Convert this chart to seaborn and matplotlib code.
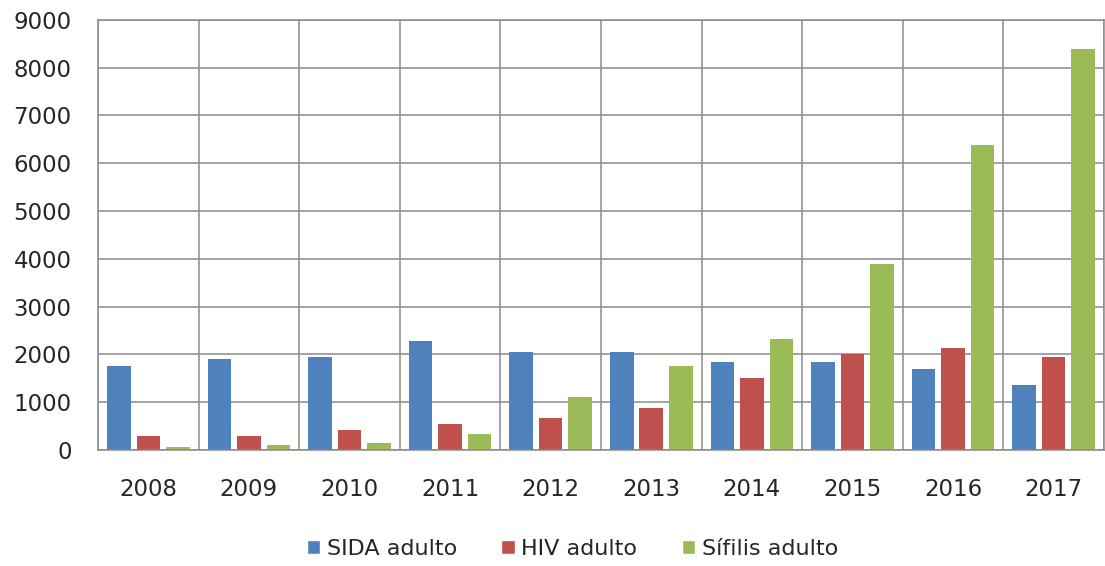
import pandas as pd
import seaborn as sns
import matplotlib.pyplot as plt
from matplotlib.patches import Patch

anos = ['2008', '2009', '2010', '2011', '2012', '2013', '2014', '2015', '2016', '2017']
sida = [1760, 1910, 1945, 2270, 2055, 2055, 1835, 1835, 1690, 1360]
hiv = [290, 290, 410, 550, 665, 885, 1510, 2010, 2125, 1940]
sifilis = [70, 110, 150, 330, 1100, 1765, 2315, 3885, 6380, 8390]
series = ['SIDA adulto', 'HIV adulto', 'Sífilis adulto']
colores = ['#4F81BD', '#C0504D', '#9BBB59']

df = pd.DataFrame({'ano': anos, series[0]: sida, series[1]: hiv, series[2]: sifilis})
df = df.melt(id_vars='ano', var_name='serie', value_name='casos')

sns.set_style("white")
plt.rcParams['font.family'] = ['DejaVu Sans']

fig = plt.figure(figsize=(11.05, 5.66), dpi=100)
ax = fig.add_axes([0.0887, 0.205, 0.9103, 0.76])

sns.barplot(data=df, x='ano', y='casos', hue='serie', hue_order=series,
            palette=colores, width=0.88, gap=0.2, saturation=1, linewidth=0,
            ax=ax, legend=False)

grid = '#8a8a8a'
ax.set_ylim(0, 9000)
ax.set_xlim(-0.5, len(anos) - 0.5)
ax.set_yticks(range(0, 9001, 1000))
ax.set_xticks([i - 0.5 for i in range(len(anos) + 1)], minor=True)
ax.grid(axis='y', which='major', color=grid, linewidth=1.1)
ax.grid(axis='x', which='minor', color=grid, linewidth=1.1)
ax.set_axisbelow(True)
for s in ax.spines.values():
    s.set_color(grid)
    s.set_linewidth(1.1)
ax.tick_params(axis='y', length=0, pad=19, labelsize=16.5, labelcolor='#262626')
ax.tick_params(axis='x', which='major', length=0, pad=20, labelsize=16.5, labelcolor='#262626')
ax.tick_params(axis='x', which='minor', length=0)
ax.set_xlabel('')
ax.set_ylabel('')

handles = [Patch(facecolor=c, label=l) for c, l in zip(colores, series)]
fig.legend(handles=handles, loc='center', bbox_to_anchor=(0.518, 0.03), ncol=3,
           frameon=False, fontsize=16, handlelength=0.6, handleheight=0.6,
           handletextpad=0.3, columnspacing=2.0, labelcolor='#262626')

fig.savefig('out.png', dpi=100)
